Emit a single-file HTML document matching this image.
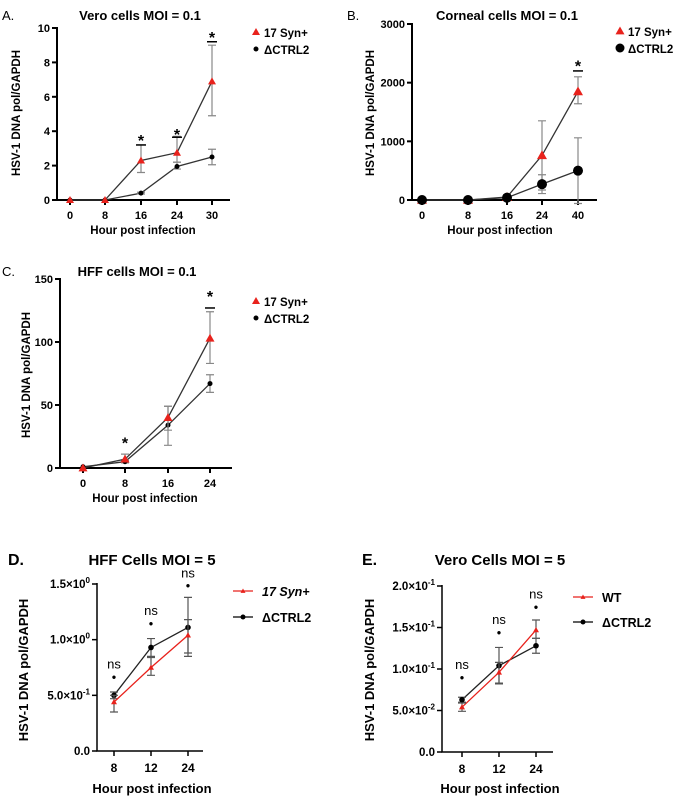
<!DOCTYPE html>
<html><head><meta charset="utf-8"><style>
body{margin:0;background:#fff;width:677px;height:798px;overflow:hidden}
svg{display:block}
text{font-family:"Liberation Sans",Arial,sans-serif;font-weight:bold;fill:#000}
</style></head><body>
<svg id="fig" width="677" height="798" viewBox="0 0 677 798"></svg>
<script>
// Panel A
const aCats=[0,8,16,24,30];
const aRed=[0,0,2.3,2.75,6.9];const aRedLo=[0,0,1.6,2.2,4.9];const aRedHi=[0,0,3.2,3.7,9.0];
const aBlk=[0,0,0.4,1.95,2.5];const aBlkLo=[0,0,0.35,1.8,2.05];const aBlkHi=[0,0,0.45,2.2,2.95];
const aTicks=[0,2,4,6,8,10];
// Panel B
const bCats=[0,8,16,24,40];
const bRed=[0,0,50,760,1850];const bRedLo=[0,0,20,170,1640];const bRedHi=[0,0,80,1350,2100];
const bBlk=[0,0,40,270,500];const bBlkLo=[0,0,0,110,-60];const bBlkHi=[0,0,80,430,1060];
const bTicks=[0,1000,2000,3000];
// Panel C
const cCats=[0,8,16,24];
const cRed=[0,7,40,103];const cRedLo=[0,5,30,83];const cRedHi=[0,11,49,124];
const cBlk=[1,5,34,67];const cBlkLo=[1,4,18,60];const cBlkHi=[1,6,49,74];
const cTicks=[0,50,100,150];
// Panel D
const dCats=["8","12","24"];
const dRed=[0.44,0.75,1.04];const dRedLo=[0.35,0.68,0.88];const dRedHi=[0.5,0.84,1.18];
const dBlk=[0.5,0.93,1.11];const dBlkLo=[0.47,0.85,0.85];const dBlkHi=[0.53,1.01,1.38];
const dTicks=["0.0","5.0×10","1.0×10","1.5×10"];const dTickVals=[0,0.5,1.0,1.5];const dExp=["","-1","0","0"];
// Panel E
const eCats=["8","12","24"];
const eRed=[0.054,0.096,0.147];const eRedLo=[0.049,0.082,0.137];const eRedHi=[0.059,0.108,0.159];
const eBlk=[0.063,0.104,0.128];const eBlkLo=[0.06,0.083,0.119];const eBlkHi=[0.066,0.126,0.137];
const eTicks=["0.0","5.0×10","1.0×10","1.5×10","2.0×10"];const eTickVals=[0,0.05,0.1,0.15,0.2];const eExp=["","-2","-1","-1","-1"];

const NS="http://www.w3.org/2000/svg";const svg=document.getElementById('fig');
function el(tag,attrs,parent,txt){const e=document.createElementNS(NS,tag);for(const k in attrs)e.setAttribute(k,attrs[k]);if(txt!==undefined)e.textContent=txt;(parent||svg).appendChild(e);return e;}

function panel(o){
  const g=el('g',{});
  
  
  const ys=v=>o.y0+(v-o.vmin)/(o.vmax-o.vmin)*(o.y1-o.y0);
  const xs=i=>o.xpos[i];
  const ax=el('path',{d:`M${o.ax} ${o.y1-1}V${o.y0}H${o.axEnd}`,stroke:'#000','stroke-width':o.aw||2,fill:'none'},g);
  
  
  o.tickVals.forEach((v,i)=>{
    const y=ys(v);
    el('line',{x1:o.ax-5,x2:o.ax,y1:y,y2:y,stroke:'#000','stroke-width':o.aw||2},g);
    const t=el('text',{x:o.ax-7,y:y+4,'text-anchor':'end','font-size':o.tfs},g,o.tickLabels[i]);
    if(o.exp&&o.exp[i]){el('tspan',{dy:-5,'font-size':o.tfs*0.7},t,o.exp[i]);}
    
    
  });
  o.cats.forEach((c,i)=>{
    const x=xs(i);
    el('line',{x1:x,x2:x,y1:o.y0,y2:o.y0+5,stroke:'#000','stroke-width':o.aw||2},g);
    const t=el('text',{x:x,y:o.y0+(o.xtOff||19),'text-anchor':'middle','font-size':o.xtfs||o.tfs},g,String(c));
    
    
  });
  const series=[{v:o.blk,lo:o.blkLo,hi:o.blkHi,col:'#000',line:o.blkLine,mk:o.blkMk,nm:'series-ctrl2'},
                {v:o.red,lo:o.redLo,hi:o.redHi,col:'#e8221c',line:o.redLine,mk:'tri',nm:'series-17syn'}];
  const order=o.redFirst?[series[1],series[0]]:[series[0],series[1]];
  order.forEach(s=>{
    const sg=el('g',{},g);
    
    
    el('polyline',{points:s.v.map((v,i)=>xs(i)+','+ys(v)).join(' '),fill:'none',stroke:s.line,'stroke-width':1.3},sg);
    s.v.forEach((v,i)=>{
      const x=xs(i);
      if(s.hi[i]!==s.lo[i]){
        el('path',{d:`M${x} ${ys(s.lo[i])}V${ys(s.hi[i])}M${x-4} ${ys(s.lo[i])}h8M${x-4} ${ys(s.hi[i])}h8`,stroke:o.errCol||'#888','stroke-width':1.2,fill:'none'},sg);
      }
    });
    s.v.forEach((v,i)=>{
      const x=xs(i),y=ys(v);
      let m;
      if(s.mk==='tri'){const r=o.triR;m=el('path',{d:`M${x} ${y-r}L${x+r} ${y+r*0.75}L${x-r} ${y+r*0.75}Z`,fill:'#e8221c'},sg);}
      else m=el('circle',{cx:x,cy:y,r:s.mk,fill:'#000'},sg);
      
      
    });
  });
  (o.ann||[]).forEach(a=>{
    const x=xs(a.i);
    if(a.bar!==undefined)el('line',{x1:x-5,x2:x+5,y1:ys(a.bar),y2:ys(a.bar),stroke:'#000','stroke-width':1.5},g);
    const t=el('text',{x:x,y:ys(a.v)+(a.t==='*'?8:0),'text-anchor':'middle','font-size':a.t==='*'?16:(a.t==='ns'?13:12),style:a.t==='ns'?'font-weight:normal':'font-weight:bold'},g,a.t);
    
    
  });
  const ti=el('text',{x:o.titleX,y:o.titleY,'text-anchor':'middle','font-size':o.tifs},g,o.title);
  
  
  const lt=el('text',{x:o.letterX,y:o.titleY,'font-size':o.lefs||o.tifs,style:'font-weight:'+(o.letW||'normal')},g,o.letter);
  
  
  const xl=el('text',{x:o.xlX,y:o.xlY,'text-anchor':'middle','font-size':o.lfs},g,'Hour post infection');
  
  
  const yl=el('text',{x:0,y:0,'text-anchor':'middle','font-size':o.lfs,transform:`translate(${o.ylX},${o.ylY}) rotate(-90)`},g,'HSV-1 DNA pol/GAPDH');
  
  
  o.legend.forEach((L,i)=>{
    const y=o.legY+i*o.legDy;
    const lg=el('g',{},g);
    
    
    if(o.legLine)el('line',{x1:o.legX-10,x2:o.legX+10,y1:y,y2:y,stroke:L.col,'stroke-width':1.3},lg);
    if(L.mk==='tri'){const r=o.legTri;el('path',{d:`M${o.legX} ${y-r}L${o.legX+r} ${y+r*0.75}L${o.legX-r} ${y+r*0.75}Z`,fill:'#e8221c'},lg);}
    else el('circle',{cx:o.legX,cy:y,r:L.mk,fill:'#000'},lg);
    el('text',{x:o.legX+o.legTx,y:y+5,'font-size':o.legfs,style:L.it?'font-style:italic':''},lg,L.t);
  });
}

panel({name:'panel-a-vero',cats:aCats,xpos:[70,105,141,177,212],ax:57,axEnd:230,y0:200,y1:28,vmin:0,vmax:10,
 tickVals:aTicks,tickLabels:aTicks.map(String),tfs:11,red:aRed,redLo:aRedLo,redHi:aRedHi,blk:aBlk,blkLo:aBlkLo,blkHi:aBlkHi,
 redLine:'#333',blkLine:'#333',blkMk:2.5,triR:4,
 ann:[{i:2,v:3.6,t:'*',bar:3.2},{i:3,v:3.95,t:'*',bar:3.65},{i:4,v:9.6,t:'*',bar:9.2}],
 title:'Vero cells MOI = 0.1',titleX:140,titleY:20,tifs:13,letter:'A.',letterX:2,xlX:143,xlY:234,lfs:11.5,ylX:20,ylY:113,
 legend:[{t:'17 Syn+',mk:'tri',col:'#e8221c'},{t:'ΔCTRL2',mk:2.5,col:'#000'}],legX:256,legY:32,legDy:17,legTx:8,legfs:11.5,legTri:4});

panel({name:'panel-b-corneal',cats:bCats,xpos:[422,468,507,542,578],ax:412,axEnd:597,y0:200,y1:24,vmin:0,vmax:3000,
 tickVals:bTicks,tickLabels:bTicks.map(String),tfs:11,red:bRed,redLo:bRedLo,redHi:bRedHi,blk:bBlk,blkLo:bBlkLo,blkHi:bBlkHi,
 redLine:'#333',blkLine:'#333',blkMk:5,triR:5,redFirst:true,
 ann:[{i:4,v:2330,t:'*',bar:2200}],
 title:'Corneal cells MOI = 0.1',titleX:507,titleY:20,tifs:13,letter:'B.',letterX:347,xlX:500,xlY:234,lfs:11.5,ylX:374,ylY:113,
 legend:[{t:'17 Syn+',mk:'tri',col:'#e8221c'},{t:'ΔCTRL2',mk:4.5,col:'#000'}],legX:620,legY:31,legDy:17,legTx:8,legfs:11.5,legTri:4.5});

panel({name:'panel-c-hff',cats:cCats,xpos:[83,125,168,210],ax:60,axEnd:232,y0:468,y1:279,vmin:0,vmax:150,
 tickVals:cTicks,tickLabels:cTicks.map(String),tfs:11,red:cRed,redLo:cRedLo,redHi:cRedHi,blk:cBlk,blkLo:cBlkLo,blkHi:cBlkHi,
 redLine:'#333',blkLine:'#333',blkMk:2.5,triR:4.5,
 ann:[{i:1,v:22,t:'*'},{i:3,v:138,t:'*',bar:127}],
 title:'HFF cells MOI = 0.1',titleX:137,titleY:276,tifs:13,letter:'C.',letterX:2,xlX:145,xlY:502,lfs:11.5,ylX:30,ylY:375,
 legend:[{t:'17 Syn+',mk:'tri',col:'#e8221c'},{t:'ΔCTRL2',mk:2.5,col:'#000'}],legX:256,legY:301,legDy:17,legTx:8,legfs:11.5,legTri:4});

panel({name:'panel-d-hff-moi5',cats:dCats,xpos:[114,151,188],ax:97,axEnd:203,y0:751,y1:584,vmin:0,vmax:1.5,aw:1.5,
 tickVals:dTickVals,tickLabels:dTicks,exp:dExp,tfs:11.5,xtfs:12,xtOff:21,red:dRed,redLo:dRedLo,redHi:dRedHi,blk:dBlk,blkLo:dBlkLo,blkHi:dBlkHi,
 redLine:'#e8221c',blkLine:'#222',blkMk:2.8,triR:3,errCol:'#555',
 ann:[{i:0,v:0.63,t:'•'},{i:1,v:1.11,t:'•'},{i:2,v:1.45,t:'•'},{i:0,v:0.74,t:'ns'},{i:1,v:1.22,t:'ns'},{i:2,v:1.56,t:'ns'}],
 title:'HFF Cells MOI = 5',titleX:152,titleY:565,tifs:15,lefs:16,letW:'bold',letter:'D.',letterX:8,xlX:152,xlY:793,lfs:13,ylX:28,ylY:670,
 legend:[{t:'17 Syn+',mk:'tri',col:'#e8221c',it:true},{t:'ΔCTRL2',mk:2.5,col:'#000'}],legLine:true,legX:243,legY:591,legDy:26,legTx:19,legfs:12.5,legTri:2.5});

panel({name:'panel-e-vero-moi5',cats:eCats,xpos:[462,499,536],ax:442,axEnd:553,y0:752,y1:586,vmin:0,vmax:0.2,aw:1.5,
 tickVals:eTickVals,tickLabels:eTicks,exp:eExp,tfs:11.5,xtfs:12,xtOff:21,red:eRed,redLo:eRedLo,redHi:eRedHi,blk:eBlk,blkLo:eBlkLo,blkHi:eBlkHi,
 redLine:'#e8221c',blkLine:'#222',blkMk:2.8,triR:3,errCol:'#555',
 ann:[{i:0,v:0.085,t:'•'},{i:1,v:0.139,t:'•'},{i:2,v:0.17,t:'•'},{i:0,v:0.1,t:'ns'},{i:1,v:0.154,t:'ns'},{i:2,v:0.185,t:'ns'}],
 title:'Vero Cells MOI = 5',titleX:500,titleY:565,tifs:15,lefs:16,letW:'bold',letter:'E.',letterX:362,xlX:500,xlY:793,lfs:13,ylX:374,ylY:670,
 legend:[{t:'WT',mk:'tri',col:'#e8221c'},{t:'ΔCTRL2',mk:2.5,col:'#000'}],legLine:true,legX:583,legY:597,legDy:25,legTx:19,legfs:12.5,legTri:2.5});
</script>
</body></html>
